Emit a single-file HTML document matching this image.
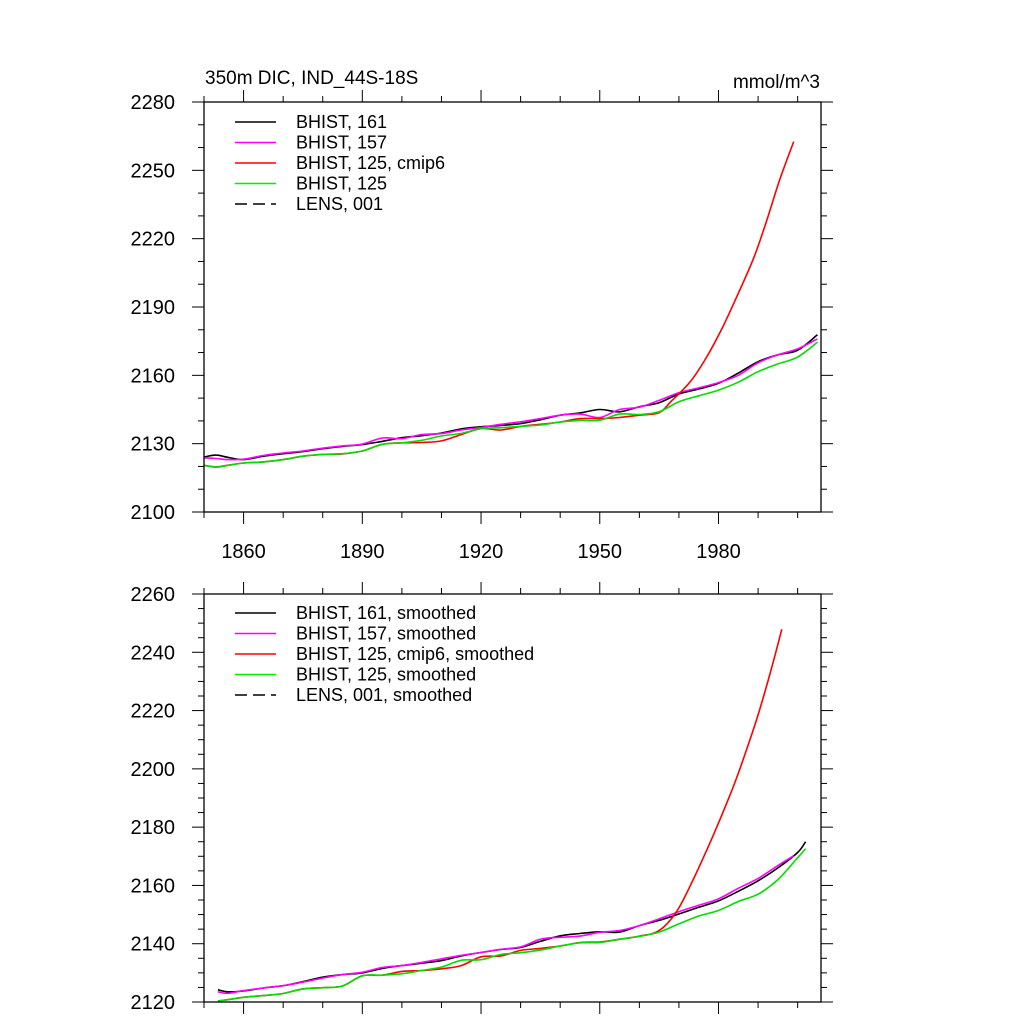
<!DOCTYPE html>
<html><head><meta charset="utf-8"><style>
body{margin:0;background:#fff}
svg{display:block;font-family:"Liberation Sans",sans-serif}
</style></head><body>
<svg id="c" width="1024" height="1024"></svg>
<script>
// ---------- data ----------
const topYears=[1850,1853,1856,1860,1865,1870,1875,1880,1885,1890,1895,1900,1905,1910,1915,1920,1925,1930,1935,1940,1945,1950,1955,1960,1965,1970,1975,1980,1985,1990,1995,2000,2005];
const topBlack=[2124.1,2125,2124,2123,2124.5,2125.6,2126.5,2127.8,2128.8,2129.6,2131,2132.6,2133.5,2134.7,2136.5,2137.4,2138,2138.8,2140.5,2142.5,2143.5,2145,2144,2146.2,2148,2151.8,2154,2156.5,2161,2166,2169,2171,2177.8];
const topMagenta=[2123.8,2123.5,2123,2123.2,2124.8,2125.9,2126.8,2128,2129,2129.8,2132.5,2132.2,2134,2134.4,2136,2137.1,2138.5,2139.6,2141,2142.5,2143,2141.5,2145,2146,2149,2152.4,2154.5,2156.8,2160,2165.5,2169,2171.6,2176];
const topRedYears=[1850,1853,1856,1860,1865,1870,1875,1880,1885,1890,1895,1900,1905,1910,1915,1920,1925,1930,1935,1940,1945,1950,1955,1960,1965,1968,1973,1977,1981,1985,1989,1992,1995.5,1999];
const topRed=[2120.5,2119.8,2120.5,2121.5,2122,2123,2124.5,2125.3,2125.5,2126.8,2129.7,2130.4,2130.5,2131.2,2134,2136.6,2136,2137.6,2138.5,2139.5,2141,2141,2141.5,2142.5,2143.6,2148.5,2157.5,2168,2181,2196,2212,2227,2246,2262.6];
const topGreen=[2120.4,2119.7,2120.4,2121.5,2122,2123,2124.5,2125.3,2125.6,2126.8,2129.7,2130.4,2131.5,2133.4,2134.5,2136.6,2137,2137.6,2138.2,2139.5,2140.2,2140.3,2143,2142.8,2144,2148.4,2151,2153.5,2157,2161.6,2165,2168,2174.6];
const botYears=[1853.5,1856,1860,1865,1870,1875,1880,1885,1890,1895,1900,1905,1910,1915,1920,1925,1930,1935,1940,1945,1950,1955,1960,1965,1970,1975,1980,1985,1990,1995,2000,2002];
const botBlack=[2124.2,2123.5,2123.8,2124.8,2125.6,2127,2128.5,2129.4,2130,2131.5,2132.5,2133.3,2134.2,2135.8,2137,2138,2138.7,2140.8,2142.7,2143.5,2144.1,2144,2146.2,2148,2150.2,2152.5,2154.7,2158,2161.6,2166,2171.3,2175];
const botMagYears=[1853.5,1856,1860,1865,1870,1875,1880,1885,1890,1895,1900,1905,1910,1915,1920,1925,1930,1935,1940,1945,1950,1955,1960,1965,1970,1975,1980,1985,1990,1995,1999];
const botMagenta=[2123.5,2123,2123.9,2124.8,2125.6,2126.8,2128.2,2129.4,2130.2,2131.8,2132.5,2133.6,2134.8,2136,2137,2138.1,2138.9,2141.5,2142.2,2142.6,2143.9,2144.5,2146.2,2148.5,2151,2153.2,2155.4,2159,2162.4,2166.8,2170.2];
const botGreen=[2120.3,2120.8,2121.6,2122.2,2122.9,2124.5,2124.9,2125.5,2129,2129.2,2129.7,2130.8,2132,2134.3,2134.5,2136.3,2136.9,2137.8,2139.2,2140.3,2140.4,2141.6,2142.5,2144,2146.8,2149.5,2151.4,2154.5,2157,2162,2169.5,2172.6];
const botRedYears=[1853.5,1856,1860,1865,1870,1875,1880,1885,1890,1895,1900,1905,1910,1915,1920,1925,1930,1935,1940,1945,1950,1955,1960,1965,1969.4,1973.6,1978.6,1982.9,1985.4,1989.6,1993,1996];
const botRed=[2120.3,2120.8,2121.6,2122.2,2122.9,2124.5,2124.9,2125.5,2129,2129.2,2130.5,2130.8,2131.4,2132.5,2135.5,2135.8,2137.7,2138.4,2139.2,2140.4,2140.6,2141.5,2142.6,2144.5,2151,2162,2177,2191,2200,2216.8,2232.5,2247.9];
const xTickLabels=[1860,1890,1920,1950,1980];
const topYTicks=[2100,2130,2160,2190,2220,2250,2280];
const botYTicks=[2120,2140,2160,2180,2200,2220,2240,2260];
const topLegend=["BHIST, 161","BHIST, 157","BHIST, 125, cmip6","BHIST, 125","LENS, 001"];
const botLegend=["BHIST, 161, smoothed","BHIST, 157, smoothed","BHIST, 125, cmip6, smoothed","BHIST, 125, smoothed","LENS, 001, smoothed"];
// ---------- drawing ----------
const svg=document.getElementById('c');const NS='http://www.w3.org/2000/svg';
function el(t,a,p){const e=document.createElementNS(NS,t);for(const k in a)e.setAttribute(k,a[k]);(p||svg).appendChild(e);return e;}
const X0=204,X1=821,Y0=1850,Y1=2005.9;
const xs=y=>X0+(y-Y0)/(Y1-Y0)*(X1-X0);
function smooth(pts){let d='M'+pts[0][0].toFixed(1)+','+pts[0][1].toFixed(1);
  for(let i=0;i<pts.length-1;i++){const p0=pts[i-1]||pts[i],p1=pts[i],p2=pts[i+1],p3=pts[i+2]||p2;
    const c1=[p1[0]+(p2[0]-p0[0])/6,p1[1]+(p2[1]-p0[1])/6],c2=[p2[0]-(p3[0]-p1[0])/6,p2[1]-(p3[1]-p1[1])/6];
    d+='C'+c1.map(v=>v.toFixed(1))+' '+c2.map(v=>v.toFixed(1))+' '+p2.map(v=>v.toFixed(1));}
  return d;}
function panel(name,top,bot,vmin,vmax,major,minor,yt,showX,series,legend,legY){
  const g=el('g',{});
  
  
  const ys=v=>bot-(v-vmin)/(vmax-vmin)*(bot-top);
  for(let yr=1850;yr<=2006;yr+=10){const x=xs(yr);const maj=(yr-1860)%30===0;const L=maj?12:6;
    el('line',{x1:x,y1:bot,x2:x,y2:bot+L,stroke:'#000','stroke-width':1},g);
    el('line',{x1:x,y1:top,x2:x,y2:top-L,stroke:'#000','stroke-width':1},g);}
  for(let v=vmin;v<=vmax+0.01;v+=minor){const y=ys(v);const maj=Math.abs((v-vmin)%major)<0.01;const L=maj?12:6;
    el('line',{x1:X0,y1:y,x2:X0-L,y2:y,stroke:'#000','stroke-width':1},g);
    el('line',{x1:X1,y1:y,x2:X1+L,y2:y,stroke:'#000','stroke-width':1},g);}
  yt.forEach(v=>{const t=el('text',{x:175,y:ys(v)+7,'text-anchor':'end','font-size':20},g);t.textContent=v;
    });
  if(showX)xTickLabels.forEach(yr=>{const t=el('text',{x:xs(yr),y:bot+46,'text-anchor':'middle','font-size':20},g);t.textContent=yr;
    });
  series.forEach(s=>{const pts=s.yrs.map((yr,i)=>[xs(yr),ys(s.v[i])]);
    const p=el('path',{d:smooth(pts),fill:'none',stroke:s.c,'stroke-width':1.6},g);
    });
  el('rect',{x:X0,y:top,width:X1-X0,height:bot-top,fill:'none',stroke:'#000','stroke-width':1.3},g);
  const cols=['#000','#ff00ff','#ff0000','#00ee00','#000'];
  legend.forEach((txt,i)=>{const y=legY+i*20.5;const lg=el('g',{},g);
    
    el('line',{x1:235,y1:y,x2:276,y2:y,stroke:cols[i],'stroke-width':1.4,'stroke-dasharray':i===4?'12,6':'none'},lg);
    const t=el('text',{x:296,y:y+6,'font-size':18},lg);t.textContent=txt;});
}
panel('top-panel',102,512,2100,2280,30,10,topYTicks,true,[
 {n:'series-bhist-161',c:'#000',yrs:topYears,v:topBlack},
 {n:'series-bhist-157',c:'#ff00ff',yrs:topYears,v:topMagenta},
 {n:'series-bhist-125-cmip6',c:'#ff0000',yrs:topRedYears,v:topRed},
 {n:'series-bhist-125',c:'#00dd00',yrs:topYears,v:topGreen}],topLegend,122);
panel('bottom-panel',594,1002,2120,2260,20,5,botYTicks,false,[
 {n:'series-bhist-161-smoothed',c:'#000',yrs:botYears,v:botBlack},
 {n:'series-bhist-157-smoothed',c:'#ff00ff',yrs:botMagYears,v:botMagenta},
 {n:'series-bhist-125-cmip6-smoothed',c:'#ff0000',yrs:botRedYears,v:botRed},
 {n:'series-bhist-125-smoothed',c:'#00dd00',yrs:botYears,v:botGreen}],botLegend,613);
const t1=el('text',{x:205,y:84,'font-size':19});t1.textContent='350m DIC, IND_44S-18S';

const t2=el('text',{x:820,y:88,'font-size':19,'text-anchor':'end'});t2.textContent='mmol/m^3';

</script>
</body></html>
